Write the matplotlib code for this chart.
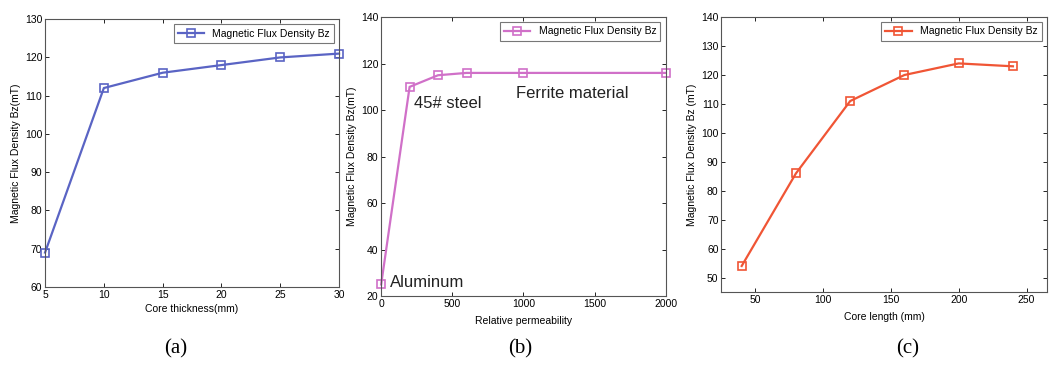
import numpy as np
from matplotlib import pyplot as plt

# data
thick = [5, 10, 15, 20, 25, 30]
bz_thick = [69, 112, 116, 118, 120, 121]

perm = [0, 200, 400, 600, 1000, 2000]
bz_perm = [25, 110, 115, 116, 116, 116]

length = [40, 80, 120, 160, 200, 240]
bz_len = [54, 86, 111, 120, 124, 123]

plt.rcParams.update({'font.family': 'Liberation Sans', 'font.size': 7.5})

fig = plt.figure(figsize=(10.5, 3.72), dpi=100)
ax1 = fig.add_axes([0.0429, 0.2285, 0.280, 0.720])
ax2 = fig.add_axes([0.363, 0.204, 0.271, 0.750])
ax3 = fig.add_axes([0.687, 0.215, 0.310, 0.739])

def style(ax):
    ax.tick_params(direction='in', top=True, right=True, length=3, width=0.6, pad=2)
    for s in ax.spines.values():
        s.set_linewidth(0.8)
        s.set_color('#555555')

ax1.plot(thick, bz_thick, '-s', color='#5a64c4', mfc='none', ms=6, mew=1.2, lw=1.6,
         label='Magnetic Flux Density Bz', clip_on=False)
ax1.set_xlim(5, 30)
ax1.set_ylim(60, 130)
ax1.set_xticks([5, 10, 15, 20, 25, 30])
ax1.set_yticks(range(60, 131, 10))
ax1.set_xlabel('Core thickness(mm)', labelpad=3)
ax1.set_ylabel('Magnetic Flux Density Bz(mT)', labelpad=3)

ax2.plot(perm, bz_perm, '-s', color='#d070c8', mfc='none', ms=6, mew=1.2, lw=1.6,
         label='Magnetic Flux Density Bz', clip_on=False)
ax2.set_xlim(0, 2000)
ax2.set_ylim(20, 140)
ax2.set_xticks([0, 500, 1000, 1500, 2000])
ax2.set_yticks(range(20, 141, 20))
ax2.set_xlabel('Relative permeability', labelpad=5)
ax2.set_ylabel('Magnetic Flux Density Bz(mT)', labelpad=3)
ax2.text(60, 26, 'Aluminum', fontsize=12, color='#222222', va='center')
ax2.text(230, 103, '45# steel', fontsize=12, color='#222222', va='center')
ax2.text(950, 107, 'Ferrite material', fontsize=12, color='#222222', va='center')

ax3.plot(length, bz_len, '-s', color='#f05535', mfc='none', ms=6, mew=1.2, lw=1.6,
         label='Magnetic Flux Density Bz', clip_on=False)
ax3.set_xlim(25, 265)
ax3.set_ylim(45, 140)
ax3.set_xticks([50, 100, 150, 200, 250])
ax3.set_yticks(range(50, 141, 10))
ax3.set_xlabel('Core length (mm)', labelpad=5)
ax3.set_ylabel('Magnetic Flux Density Bz (mT)', labelpad=3)

for ax in (ax1, ax2, ax3):
    style(ax)
    leg = ax.legend(loc='upper right', fontsize=7.5, fancybox=False,
                    borderaxespad=0.5, handlelength=2.5)
    leg.get_frame().set_edgecolor('#555555')
    leg.get_frame().set_linewidth(0.8)

for x, t in [(0.167, '(a)'), (0.495, '(b)'), (0.864, '(c)')]:
    fig.text(x, 0.05, t, fontsize=15, family='Liberation Serif', ha='center')

fig.savefig('out.png', dpi=100)
